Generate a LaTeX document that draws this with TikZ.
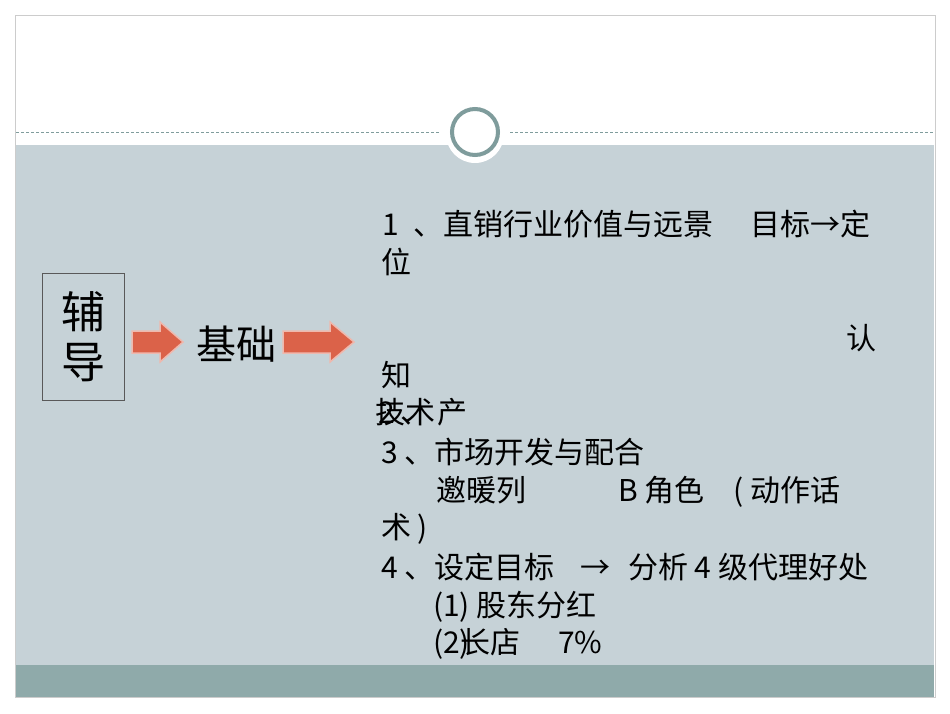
\documentclass[tikz,border=0pt]{standalone}
\usepackage{fontspec}
\setmainfont{Noto Sans CJK SC}
\definecolor{bodyc}{HTML}{C6D2D7}
\definecolor{bandc}{HTML}{8FAAAA}
\definecolor{ringc}{HTML}{7F9C9C}
\definecolor{arrc}{HTML}{DB6249}
\tikzset{
  txt/.style={anchor=base west, inner sep=0pt, font=\fontsize{30}{30}\selectfont},
  bigarrow/.style={fill=arrc, draw=arrc!45!white, line width=1.5pt, line join=miter}
}
\begin{document}
\begin{tikzpicture}[x=1pt,y=-1pt]
\useasboundingbox (0,0) rectangle (950,713);
\fill[white] (0,0) rectangle (950,713);
\draw[gray!40] (15,15) rectangle (935,697);
\fill[bodyc] (16,145) rectangle (934,665);
\fill[bandc] (16,665) rectangle (934,697);
\draw[ringc, densely dashed, line width=0.6pt] (16,132) -- (440,132);
\draw[ringc, densely dashed, line width=0.6pt] (510,132) -- (934,132);
\fill[white] (475,134) circle (29);
\node[circle, draw=ringc, line width=4pt, fill=white, minimum size=46pt, inner sep=0pt] (ring) at (475,132) {};
% left box
\node[draw=gray!70!black, line width=0.8pt, minimum width=82pt, minimum height=127pt, align=center,
  font=\fontsize{44}{50}\selectfont, inner sep=0pt] (fd) at (83,337) {辅\\导};
\draw[bigarrow] (132,331) -- (160,331) -- (160,322) -- (183,342) -- (160,362) -- (160,353) -- (132,353) -- cycle;
\node[font=\fontsize{40}{40}\selectfont, inner sep=0pt] (jc) at (236,344) {基础};
\draw[bigarrow] (283,331) -- (330,331) -- (330,322) -- (354,342) -- (330,362) -- (330,353) -- (283,353) -- cycle;
% text
\node[txt] (l1n) at (382,235) {1};
\node[txt] (l1) at (413,235) {、直销行业价值与远景};
\node[txt] (l1t) at (750,235) {目标→定};
\node[txt] (l1b) at (381,273) {位};
\node[txt] (l2a) at (846,349) {认};
\node[txt] (l2b) at (381,386) {知};
\node[txt] (l3a) at (375,423) {技术};
\node[txt] (l3n) at (378,423) {2\hspace{6pt}、};
\node[txt] (l3b) at (437,423) {产};
\node[txt] (l4) at (381,463) {3 、市场开发与配合};
\node[txt] (l5) at (436,501) {邀暖列};
\node[txt] (l5b) at (618,501) {B 角色};
\node[txt] (l5c) at (733,501) {( 动作话};
\node[txt] (l6) at (381,538) {术 )};
\node[txt] (l7) at (381,578) {4 、设定目标};
\node[txt] (l7b) at (580,578) {→};
\node[txt] (l7c) at (628,578) {分析 4 级代理好处};
\node[txt] (l8) at (433,616) {(1)\ 股东分红};
\node[txt] (l9a) at (433,653) {(2)};
\node[txt] (l9b) at (460,653) {长店};
\node[txt] (l9c) at (558,653) {7\%};
\end{tikzpicture}
\end{document}
